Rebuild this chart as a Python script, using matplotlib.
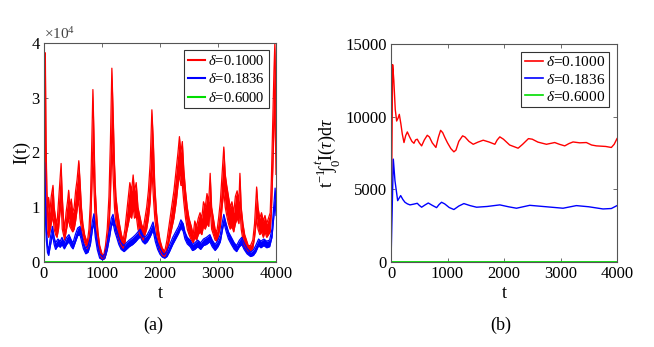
import matplotlib
matplotlib.use("Agg")
import matplotlib.pyplot as plt

plt.rcParams['font.family'] = ['Liberation Serif', 'DejaVu Serif']
plt.rcParams['mathtext.fontset'] = 'custom'
plt.rcParams['mathtext.rm'] = 'Liberation Serif'
plt.rcParams['mathtext.it'] = 'Liberation Serif:italic'
plt.rcParams['mathtext.bf'] = 'Liberation Serif:bold'

# ---------------- data (panel a), values in units of 1e4 ----------------
t_red = [0, 12, 23, 35, 50, 65, 80, 100, 125, 155, 175, 200, 224, 250, 275, 295, 315, 335, 356, 380,
         405, 425, 445, 470, 494, 520, 545, 570, 600, 620, 645, 670, 700, 745, 775, 800, 820, 843, 860,
         880, 905, 930, 960, 1000, 1030, 1060, 1090, 1120, 1145, 1170, 1190, 1215, 1240, 1270, 1300,
         1335, 1365, 1395, 1425, 1455, 1480, 1510, 1537, 1560, 1590, 1620, 1650, 1680, 1710, 1740,
         1770, 1800, 1830, 1860, 1885, 1910, 1940, 1970, 2000, 2040, 2083, 2120, 2160, 2200, 2240,
         2280, 2310, 2335, 2360, 2385, 2410, 2440, 2470, 2500, 2540, 2572, 2600, 2630, 2660, 2690,
         2720, 2750, 2780, 2810, 2840, 2865, 2890, 2920, 2950, 2980, 3010, 3040, 3070, 3100, 3125,
         3150, 3180, 3210, 3240, 3270, 3300, 3330, 3360, 3378, 3400, 3430, 3460, 3490, 3522, 3560,
         3600, 3630, 3666, 3690, 3720, 3750, 3781, 3810, 3840, 3870, 3900, 3920, 3945, 3965, 3980,
         3990, 4000]
red_hi = [0.0, 3.0, 3.82, 2.2, 1.3, 0.9, 1.18, 0.9, 1.2, 1.4, 1.0, 0.8, 0.7, 1.1, 1.5, 1.8, 1.2, 0.8, 0.6, 0.9,
          1.1, 1.31, 1.0, 1.15, 0.9, 1.0, 1.3, 1.5, 1.85, 1.5, 1.0, 0.7, 0.5, 0.35, 0.6, 1.1, 2.0, 3.15, 2.4,
          1.4, 0.9, 0.55, 0.3, 0.15, 0.12, 0.3, 0.6, 1.2, 2.2, 3.54, 2.8, 1.8, 1.2, 0.9, 0.7,
          0.5, 0.4, 0.6, 0.9, 1.2, 1.45, 1.3, 1.59, 1.3, 1.45, 1.0, 0.85, 0.7, 0.6, 0.8,
          1.0, 1.3, 1.8, 2.78, 2.2, 1.4, 0.9, 0.6, 0.4, 0.25, 0.2, 0.4, 0.7, 1.0, 1.3,
          1.7, 2.0, 2.29, 2.0, 2.2, 1.7, 1.3, 1.0, 0.8, 0.65, 0.5, 0.75, 0.65, 0.8, 0.9,
          0.8, 1.1, 1.0, 1.25, 1.1, 1.62, 1.0, 0.8, 0.6, 0.55, 0.8, 1.1, 1.6, 2.1, 1.6,
          1.4, 1.2, 1.0, 1.1, 0.9, 1.2, 1.3, 1.1, 1.62, 1.0, 0.7, 0.5, 0.4, 0.3, 0.3,
          0.4, 0.7, 1.37, 1.0, 0.8, 0.9, 0.75, 0.85, 0.7, 0.8, 0.9, 1.5, 2.6, 3.5, 4.0,
          3.4, 2.4]
red_lo = [0.0, 1.5, 2.6, 1.2, 0.6, 0.5, 0.45, 0.55, 0.7, 0.85, 0.6, 0.5, 0.45, 0.6, 0.9, 1.1, 0.6, 0.5, 0.4, 0.55,
          0.7, 0.8, 0.65, 0.6, 0.55, 0.6, 0.75, 0.95, 1.15, 0.8, 0.6, 0.45, 0.35, 0.25, 0.35, 0.6, 1.2, 2.0, 1.4,
          0.8, 0.5, 0.3, 0.15, 0.06, 0.05, 0.12, 0.3, 0.6, 1.2, 2.2, 1.6, 1.0, 0.7, 0.5, 0.4,
          0.3, 0.25, 0.35, 0.55, 0.7, 0.85, 0.8, 1.0, 0.8, 0.85, 0.6, 0.5, 0.45, 0.4, 0.5,
          0.6, 0.8, 1.1, 1.7, 1.2, 0.8, 0.5, 0.35, 0.22, 0.12, 0.1, 0.2, 0.4, 0.6, 0.8,
          1.1, 1.4, 1.6, 1.4, 1.4, 1.1, 0.8, 0.6, 0.5, 0.4, 0.35, 0.45, 0.4, 0.5, 0.55,
          0.5, 0.65, 0.6, 0.7, 0.65, 1.0, 0.6, 0.5, 0.4, 0.38, 0.5, 0.65, 1.0, 1.3, 1.0,
          0.85, 0.7, 0.6, 0.65, 0.55, 0.7, 0.8, 0.7, 1.0, 0.6, 0.4, 0.3, 0.25, 0.2, 0.2,
          0.25, 0.45, 0.8, 0.6, 0.5, 0.55, 0.45, 0.55, 0.45, 0.5, 0.55, 0.9, 1.7, 2.5, 3.0,
          2.3, 1.6]

t_blue = [0, 8, 20, 40, 60, 80, 110, 145, 175, 200, 240, 280, 310, 350, 390, 430, 470, 500, 540, 580,
          620, 650, 680, 720, 760, 800, 835, 860, 885, 920, 960, 1010, 1050, 1090, 1130, 1160, 1190,
          1220, 1250, 1290, 1330, 1380, 1420, 1470, 1530, 1580, 1620, 1660, 1700, 1740, 1780, 1830,
          1880, 1920, 1960, 2000, 2040, 2080, 2120, 2160, 2220, 2270, 2320, 2360, 2400, 2430, 2470,
          2520, 2560, 2600, 2650, 2700, 2750, 2800, 2860, 2900, 2950, 3000, 3040, 3070, 3100, 3140,
          3180, 3230, 3280, 3320, 3370, 3410, 3450, 3500, 3560, 3610, 3650, 3700, 3740, 3790, 3840,
          3890, 3930, 3960, 3985, 4000]
blue_hi = [0.0, 1.82, 1.4, 0.6, 0.3, 0.22, 0.45, 0.65, 0.45, 0.35, 0.42, 0.38, 0.45, 0.35, 0.45, 0.5, 0.4, 0.35, 0.5, 0.62,
           0.65, 0.5, 0.35, 0.25, 0.3, 0.45, 0.75, 0.88, 0.6, 0.35, 0.15, 0.1, 0.15, 0.35, 0.6, 0.8, 0.87,
           0.7, 0.6, 0.45, 0.35, 0.3, 0.35, 0.4, 0.45, 0.5, 0.55, 0.6, 0.5, 0.45, 0.5, 0.6,
           0.73, 0.5, 0.35, 0.25, 0.17, 0.14, 0.2, 0.3, 0.45, 0.55, 0.65, 0.77, 0.7, 0.55, 0.45,
           0.4, 0.32, 0.35, 0.4, 0.35, 0.42, 0.45, 0.5, 0.4, 0.32, 0.4, 0.5, 0.7, 0.87, 0.7,
           0.55, 0.45, 0.35, 0.3, 0.4, 0.45, 0.35, 0.25, 0.18, 0.22, 0.3, 0.42, 0.38, 0.42, 0.38,
           0.4, 0.6, 1.0, 1.35, 1.05]
blue_lo = [0.0, 1.3, 0.9, 0.4, 0.17, 0.12, 0.3, 0.5, 0.32, 0.23, 0.3, 0.27, 0.32, 0.24, 0.32, 0.37, 0.28, 0.24, 0.36, 0.48,
           0.5, 0.37, 0.24, 0.15, 0.18, 0.32, 0.6, 0.72, 0.45, 0.22, 0.07, 0.04, 0.07, 0.22, 0.45, 0.65, 0.72,
           0.56, 0.46, 0.32, 0.23, 0.19, 0.23, 0.28, 0.32, 0.37, 0.42, 0.46, 0.37, 0.33, 0.37, 0.46,
           0.58, 0.37, 0.23, 0.14, 0.09, 0.07, 0.1, 0.18, 0.32, 0.42, 0.52, 0.62, 0.56, 0.42, 0.33,
           0.28, 0.21, 0.23, 0.28, 0.23, 0.3, 0.32, 0.37, 0.28, 0.21, 0.28, 0.37, 0.55, 0.72, 0.56,
           0.42, 0.32, 0.23, 0.19, 0.28, 0.32, 0.23, 0.15, 0.1, 0.12, 0.18, 0.3, 0.26, 0.3, 0.26,
           0.28, 0.45, 0.8, 1.1, 0.85]

t_green = [0, 4000]
green_vals = [0, 0]

# ---------------- data (panel b) ----------------
t_avg_red = [0, 29, 50, 75, 100, 125, 147, 175, 200, 230, 260, 289, 330, 370, 406, 435, 465, 500, 542,
             590, 642, 680, 730, 795, 840, 878, 915, 954, 1000, 1060, 1113, 1150, 1200, 1267, 1310, 1380,
             1455, 1540, 1632, 1740, 1838, 1880, 1926, 1990, 2100, 2250, 2330, 2433, 2500, 2600, 2751,
             2898, 2980, 3075, 3150, 3222, 3340, 3458, 3550, 3635, 3800, 3900, 3950, 4000]
avg_red = [0, 13580, 12500, 10500, 9700, 9900, 10160, 9500, 8800, 8220, 8700, 8950, 8600, 8300, 8170,
           8400, 8450, 8200, 7990, 8400, 8720, 8600, 8200, 7880, 8600, 9060, 8900, 8560, 8200, 7800, 7580,
           7700, 8300, 8680, 8600, 8300, 8100, 8250, 8380, 8250, 8100, 8400, 8610, 8450, 8050, 7830, 8100,
           8490, 8450, 8250, 8100, 8220, 8100, 7990, 8150, 8260, 8200, 8220, 8050, 7990, 7950, 7880, 8100,
           8490]
t_avg_blue = [0, 41, 70, 118, 145, 171, 210, 247, 290, 336, 400, 465, 500, 542, 600, 660, 730, 807, 850,
              895, 950, 1030, 1113, 1200, 1290, 1400, 1514, 1700, 1926, 2080, 2221, 2456, 2750, 3045,
              3281, 3500, 3752, 3900, 4000]
avg_blue = [0, 7080, 5600, 4220, 4400, 4570, 4300, 4110, 4000, 3930, 3980, 4040, 3900, 3770, 3920, 4060,
            3900, 3740, 3950, 4110, 4000, 3750, 3610, 3850, 4020, 3880, 3770, 3820, 3930, 3800, 3700, 3900,
            3800, 3700, 3880, 3800, 3650, 3680, 3880]
t_avg_green = [0, 4000]
avg_green = [0, 0]

labels = [r'$\delta$=0.1000', r'$\delta$=0.1836', r'$\delta$=0.6000']
RED, BLUE, GREEN = '#ff0000', '#0000ff', '#00dd00'

fig = plt.figure(figsize=(6.54, 3.47), dpi=100)
ax1 = fig.add_axes([44/654, 1-262/347, 232/654, 219/347])
ax2 = fig.add_axes([391/654, 1-262/347, 226/654, 218/347])

def style(ax):
    for s in ax.spines.values():
        s.set_color('#555555')
        s.set_linewidth(0.8)
    ax.tick_params(direction='in', top=True, right=True, length=3, width=0.6,
                   color='#555555', labelsize=12, pad=3)

# panel a
ax1.fill_between(t_red, red_lo, red_hi, color=RED, lw=0)
h1, = ax1.plot(t_red, red_hi, color=RED, lw=0.9)
ax1.plot(t_red, red_lo, color=RED, lw=0.9)
ax1.fill_between(t_blue, blue_lo, blue_hi, color=BLUE, lw=0)
h2, = ax1.plot(t_blue, blue_hi, color=BLUE, lw=0.9)
ax1.plot(t_blue, blue_lo, color=BLUE, lw=0.9)
h3, = ax1.plot(t_green, green_vals, color=GREEN, lw=2)
ax1.set_xlim(0, 4000)
ax1.set_ylim(0, 4)
ax1.set_xticks([0, 1000, 2000, 3000, 4000])
ax1.set_yticks([0, 1, 2, 3, 4])
style(ax1)
ax1.set_xlabel('t', fontsize=13, labelpad=2)
ax1.set_ylabel('I(t)', fontsize=13, labelpad=1)
ax1.text(0.0, 1.005, r'$\times10^4$', transform=ax1.transAxes, fontsize=11, color='#444444',
         ha='left', va='bottom')
leg1 = ax1.legend([h1, h2, h3], labels, loc='upper right', fontsize=10.5, frameon=True, fancybox=False,
                  edgecolor='black', borderpad=0.25, handlelength=1.2, handletextpad=0.2,
                  labelspacing=0.3, borderaxespad=0.5)
leg1.get_frame().set_linewidth(0.8)
for line in leg1.get_lines():
    line.set_linewidth(1.5)

# panel b
g1, = ax2.plot(t_avg_red, avg_red, color=RED, lw=1.0)
g2, = ax2.plot(t_avg_blue, avg_blue, color=BLUE, lw=1.0)
g3, = ax2.plot(t_avg_green, avg_green, color=GREEN, lw=2)
ax2.set_xlim(0, 4000)
ax2.set_ylim(0, 15000)
ax2.set_xticks([0, 1000, 2000, 3000, 4000])
ax2.set_yticks([0, 5000, 10000, 15000])
style(ax2)
ax2.set_xlabel('t', fontsize=13, labelpad=2)
ax2.set_ylabel(r't$^{-1}\!\int_0^t$I($\tau$)d$\tau$', fontsize=13, labelpad=2)
leg2 = ax2.legend([g1, g2, g3], labels, loc='upper right', fontsize=11, frameon=True, fancybox=False,
                  edgecolor='black', borderpad=0.25, handlelength=1.2, handletextpad=0.2,
                  labelspacing=0.2, borderaxespad=0.5)
leg2.get_frame().set_linewidth(0.8)
for line in leg2.get_lines():
    line.set_linewidth(1.2)

fig.text(153/654, 1-325/347, '(a)', fontsize=13, ha='center', va='center')
fig.text(501/654, 1-325/347, '(b)', fontsize=13, ha='center', va='center')

fig.savefig('out.png', dpi=100)
